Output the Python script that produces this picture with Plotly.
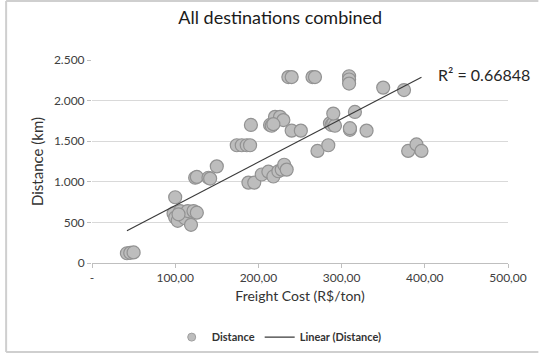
import plotly.graph_objects as go
import numpy as np

freight_cost = [42, 46, 50,
                100,
                98, 100, 103, 106, 110, 112, 115, 119, 122, 126, 104,
                124, 126, 140, 142, 150,
                174, 180, 186, 190,
                191,
                188, 195,
                204, 212, 218, 224, 228, 231, 234,
                214, 216, 220, 226, 230, 218,
                236, 240,
                240, 251,
                265, 268,
                271, 284,
                286, 288, 290, 292, 290,
                309, 309, 309,
                310, 310, 316, 330,
                350, 375,
                380, 390, 396]
distance = [120, 125, 130,
            810,
            610, 560, 520, 640, 580, 550, 640, 470, 640, 620, 600,
            1050, 1060, 1050, 1040, 1190,
            1450, 1450, 1450, 1450,
            1700,
            990, 990,
            1090, 1125, 1065, 1130, 1150, 1210, 1150,
            1700, 1690, 1800, 1800, 1760, 1710,
            2290, 2290,
            1630, 1630,
            2290, 2290,
            1380, 1450,
            1720, 1700, 1720, 1690, 1840,
            2300, 2260, 2210,
            1640, 1660, 1860, 1630,
            2160, 2130,
            1380, 1460, 1380]

trend_slope = 5.34
trend_intercept = 174
r_squared = 0.66848

x_tickvals = [0, 100, 200, 300, 400, 500]
x_ticktext = ["-", "100,00", "200,00", "300,00", "400,00", "500,00"]
y_tickvals = [0, 500, 1000, 1500, 2000, 2500]
y_ticktext = ["0", "500", "1.000", "1.500", "2.000", "2.500"]

trend_x = np.array([min(freight_cost), max(freight_cost)])
trend_y = trend_slope * trend_x + trend_intercept

FONT = "Lato"

fig = go.Figure()
fig.add_trace(go.Scatter(
    x=freight_cost, y=distance, mode="markers", name="Distance", showlegend=False,
    marker=dict(size=13, color="#bdbdbd", line=dict(color="#929292", width=1.2)),
))
# legend-only entry with the small legend marker
fig.add_trace(go.Scatter(
    x=[None], y=[None], mode="markers", name="<b>Distance</b>",
    marker=dict(size=8, color="#bdbdbd", line=dict(color="#a0a0a0", width=1)),
))
fig.add_trace(go.Scatter(
    x=trend_x, y=trend_y, mode="lines", name="<b>Linear (Distance)</b>",
    line=dict(color="#3a3a3a", width=1.2),
))

fig.add_annotation(x=414, y=2320, xref="x", yref="y", text="R² = " + str(r_squared),
                   showarrow=False, xanchor="left", yanchor="middle",
                   font=dict(family=FONT, size=16, color="#262626"))

# outer chart border (left, top, bottom)
for (x0, y0, x1, y1) in [(6, 1, 6, 352), (6, 1, 539, 1), (6, 352, 539, 352)]:
    fig.add_shape(type="line", xref="paper", yref="paper",
                  x0=(x0 - 92) / 416.6, x1=(x1 - 92) / 416.6,
                  y0=(263 - y0) / 203, y1=(263 - y1) / 203,
                  line=dict(color="#cfcfcf", width=2))

fig.update_layout(
    width=539, height=353,
    margin=dict(l=92, r=31, t=60, b=90, autoexpand=False),
    paper_bgcolor="white", plot_bgcolor="white",
    title=dict(text="All destinations combined", x=0.52, xanchor="center",
               y=0.95, yanchor="middle",
               font=dict(family=FONT, size=18, color="#1a1a1a")),
    showlegend=True,
    legend=dict(orientation="h", x=0.45, xanchor="center",
                yref="container", y=0.045, yanchor="middle",
                font=dict(family=FONT, size=11, color="#333333"),
                itemwidth=30, bgcolor="rgba(0,0,0,0)"),
    xaxis=dict(range=[0, 500], tickvals=x_tickvals, ticktext=x_ticktext,
               showgrid=False, zeroline=False, showline=True, linecolor="#bfbfbf", linewidth=1,
               ticks="outside", ticklen=4, tickcolor="#bfbfbf",
               tickfont=dict(family=FONT, size=12, color="#404040"),
               title=dict(text="Freight Cost (R$/ton)", font=dict(family=FONT, size=14, color="#333333"),
                          standoff=6)),
    yaxis=dict(range=[0, 2500], tickvals=y_tickvals, ticktext=y_ticktext,
               showgrid=True, gridcolor="#d9d9d9", gridwidth=1, zeroline=False,
               showline=False, ticks="outside", ticklen=4, tickcolor="#bfbfbf",
               tickfont=dict(family=FONT, size=12, color="#404040"),
               title=dict(text="Distance (km)", font=dict(family=FONT, size=15, color="#333333"),
                          standoff=6)),
)

fig.write_html("out.html")
